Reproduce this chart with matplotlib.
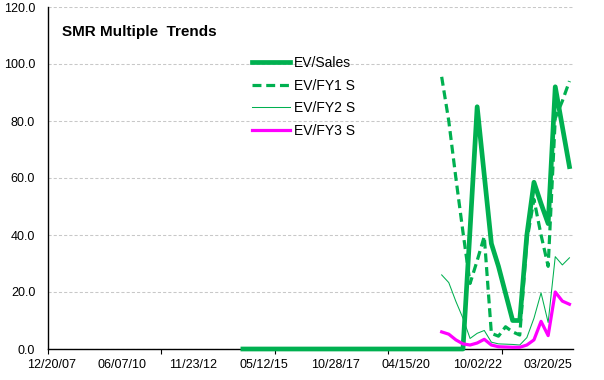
import numpy as np
import pandas as pd
import matplotlib
matplotlib.use("Agg")
import matplotlib.pyplot as plt

plt.rcParams['font.family'] = ['Liberation Sans', 'DejaVu Sans']

# categories: one every 90 days starting 12/20/07
dates = pd.date_range('2007-12-20', periods=74, freq='90D')
tick_labels = ['12/20/07', '06/07/10', '11/23/12', '05/12/15',
               '10/28/17', '04/15/20', '10/02/22', '03/20/25']

nan = np.nan
ev_sales = [nan] * 27 + [0.0] * 32 + [
    42, 85, 61, 37, 29, 19.5, 10, 10, 40, 58.5, 51, 44, 92, 78, 64]
ev_fy1 = [nan] * 55 + [
    95.5, 80, 60, 41, 23, 31, 39.5, 5.5, 4.5, 7.8, 6, 4.9, 38, 52.5, 40, 29, 81, 87, 94]
ev_fy2 = [nan] * 55 + [
    26, 23.3, 16.7, 10.8, 3.7, 5.5, 6.5, 2.4, 1.8, 1.7, 1.6, 1.4, 4, 10.8, 19.7, 9.3, 32.4, 29.5, 32]
ev_fy3 = [nan] * 55 + [
    6, 5.2, 3.2, 1.8, 1.4, 2.1, 3.4, 1.4, 0.8, 0.7, 0.6, 0.6, 1.4, 3.2, 9.7, 4.7, 20, 16.8, 15.7]

green = '#00B050'
magenta = '#FF00FF'

W, H = 604, 380
fig = plt.figure(figsize=(W / 100, H / 100), dpi=100)
left, right, top, bottom = 47.7, 573, 7, 349
ax = fig.add_axes([left / W, 1 - bottom / H, (right - left) / W, (bottom - top) / H])

x = np.arange(len(dates))
ax.plot(x, ev_sales, color=green, lw=3.4, label='EV/Sales', zorder=3, clip_on=False)
ax.plot(x, ev_fy1, color=green, lw=2.3, linestyle=(0, (2.8, 1.5)), label='EV/FY1 S', zorder=3)
ax.plot(x, ev_fy2, color=green, lw=0.75, label='EV/FY2 S', zorder=3)
ax.plot(x, ev_fy3, color=magenta, lw=2.3, label='EV/FY3 S', zorder=3)

ax.set_xlim(-0.5, len(dates) - 0.5)
ax.set_ylim(0, 120)

# labels every 10 categories, tick marks every 16
ax.set_xticks(x[::10])
ax.set_xticklabels(tick_labels)
ax.set_xticks(np.arange(-0.5, len(dates), 16), minor=True)
ax.tick_params(axis='x', which='major', length=0, pad=7, labelsize=9)
ax.tick_params(axis='x', which='minor', length=3.6, width=0.8, direction='out', color='black')

ax.set_yticks(np.arange(0, 121, 20))
ax.set_yticklabels(['%.1f' % v for v in np.arange(0, 121, 20)])
ax.tick_params(axis='y', length=0, pad=9, labelsize=9)

ax.grid(axis='y', color='#c8c8c8', linestyle=(0, (3, 2)), lw=0.75)
ax.set_axisbelow(True)
for s in ['top', 'right']:
    ax.spines[s].set_visible(False)
for s in ['left', 'bottom']:
    ax.spines[s].set_linewidth(1.0)

fig.text(62 / W, 1 - 32 / H, 'SMR Multiple  Trends', fontsize=11, fontweight='bold',
         ha='left', va='center')

ax.legend(loc='upper left', bbox_to_anchor=(252 / W, 1 - 56 / H), bbox_transform=fig.transFigure,
          frameon=False, fontsize=10, borderpad=0, borderaxespad=0,
          handlelength=2.7, handletextpad=0.35, labelspacing=0.62)

fig.savefig('out.png', dpi=100)
